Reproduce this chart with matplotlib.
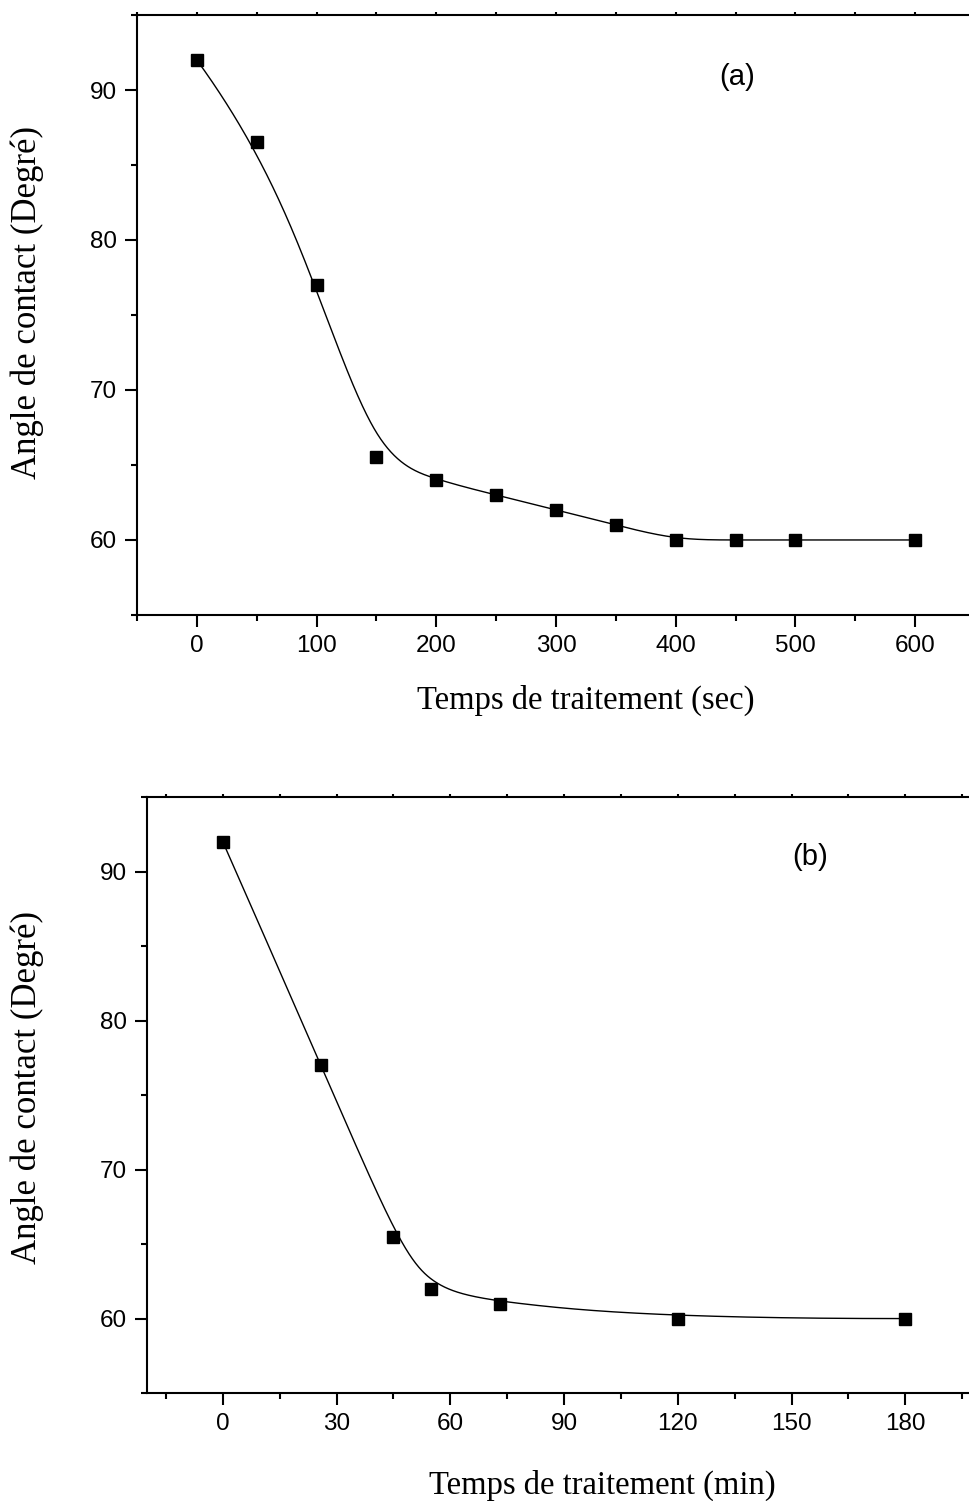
import numpy as np
import matplotlib
matplotlib.use("Agg")
import matplotlib.pyplot as plt
from matplotlib.ticker import MultipleLocator

# data
temps_sec = [0, 50, 100, 150, 200, 250, 300, 350, 400, 450, 500, 600]
angle_sec = [92, 86.5, 77, 65.5, 64, 63, 62, 61, 60, 60, 60, 60]

temps_min = [0, 26, 45, 55, 73, 120, 180]
angle_min = [92, 77, 65.5, 62, 61, 60, 60]


def bspline(px, py, num=800):
    # clamped cubic B-spline using the points as control points (Origin "B-Spline" connect)
    px = np.asarray(px, float)
    py = np.asarray(py, float)
    n = len(px)
    k = 3
    knots = np.concatenate([[0] * k, np.arange(n - 2), [n - 3] * k]).astype(float)
    t = np.linspace(0, n - 3, num)
    N = []
    for i in range(len(knots) - 1):
        N.append(((knots[i] <= t) & (t < knots[i + 1])).astype(float))
    # last point belongs to the last non-empty interval
    last = max(i for i in range(len(knots) - 1) if knots[i] < knots[i + 1])
    N[last][t == knots[-1]] = 1.0
    for d in range(1, k + 1):
        newN = []
        for i in range(len(knots) - 1 - d):
            den1 = knots[i + d] - knots[i]
            den2 = knots[i + d + 1] - knots[i + 1]
            a = (t - knots[i]) / den1 if den1 > 0 else 0 * t
            b = (knots[i + d + 1] - t) / den2 if den2 > 0 else 0 * t
            newN.append(a * N[i] + b * N[i + 1])
        N = newN
    N = np.array(N)
    return N.T @ px, N.T @ py


fig = plt.figure(figsize=(9.7, 15.01), dpi=100)
ax1 = fig.add_axes([0.1412, 0.5903, 0.864, 0.3997])
ax2 = fig.add_axes([0.1515, 0.0719, 0.860, 0.3971])

tick_font = "Liberation Sans"
label_font = "Liberation Serif"


def style(ax, xmaj, xmin, ticks):
    for s in ["left", "bottom", "top"]:
        ax.spines[s].set_linewidth(1.5)
    ax.spines["right"].set_visible(False)
    ax.set_xticks(ticks)
    ax.xaxis.set_minor_locator(MultipleLocator(xmin))
    ax.yaxis.set_major_locator(MultipleLocator(10))
    ax.yaxis.set_minor_locator(MultipleLocator(5))
    ax.tick_params(which="major", direction="out", length=8.5, width=1.5,
                   labelsize=17.5, pad=6)
    ax.tick_params(which="minor", direction="out", length=4.3, width=1.5)
    ax.tick_params(axis="x", which="both", top=True, labeltop=False)
    # tiny marks on the top axis
    for tl in ax.xaxis.get_ticklines(minor=True)[1::2] + ax.xaxis.get_ticklines()[1::2]:
        tl.set_markersize(2)
    for lab in ax.get_xticklabels() + ax.get_yticklabels():
        lab.set_fontfamily(tick_font)


# panel (a)
cx, cy = bspline(temps_sec, angle_sec)
ax1.plot(cx, cy, color="black", lw=1)
ax1.plot(temps_sec, angle_sec, "s", color="black", ms=9)
ax1.set_xlim(-50, 650)
ax1.set_ylim(55, 95)
style(ax1, 100, 50, [0, 100, 200, 300, 400, 500, 600])
ax1.set_xlabel("Temps de traitement (sec)", fontsize=23.5, family=label_font)
ax1.set_ylabel("Angle de contact (Degré)", fontsize=25, family=label_font)
ax1.xaxis.set_label_coords(0.536, -0.117)
ax1.yaxis.set_label_coords(-0.111, 0.52)
ax1.text(451, 90.9, "(a)", fontsize=21, family=tick_font, ha="center", va="center")

# panel (b)
cx, cy = bspline(temps_min, angle_min)
ax2.plot(cx, cy, color="black", lw=1)
ax2.plot(temps_min, angle_min, "s", color="black", ms=9)
ax2.set_xlim(-20, 200)
ax2.set_ylim(55, 95)
style(ax2, 30, 15, [0, 30, 60, 90, 120, 150, 180])
ax2.set_xlabel("Temps de traitement (min)", fontsize=23.5, family=label_font)
ax2.set_ylabel("Angle de contact (Degré)", fontsize=25, family=label_font)
ax2.xaxis.set_label_coords(0.546, -0.129)
ax2.yaxis.set_label_coords(-0.1235, 0.513)
ax2.text(155, 91, "(b)", fontsize=21, family=tick_font, ha="center", va="center")

fig.savefig("out.png", dpi=100)
